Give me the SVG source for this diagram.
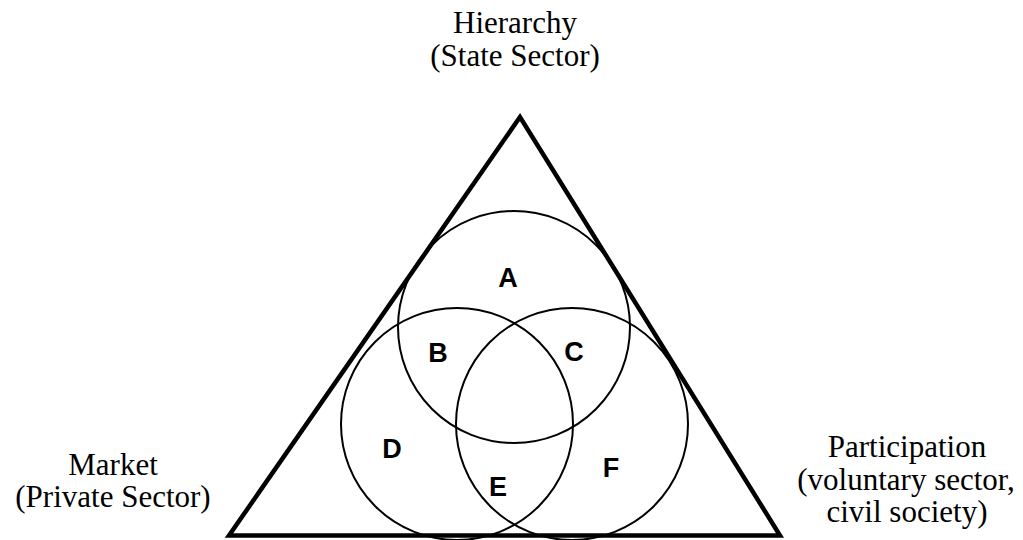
<svg xmlns="http://www.w3.org/2000/svg" width="1023" height="540" viewBox="0 0 1023 540">
<style>
.lbl{font-family:"Liberation Serif","Times New Roman",serif;font-size:31px;fill:#000;text-anchor:middle}
.reg{font-family:"Liberation Sans",Arial,sans-serif;font-size:27px;font-weight:bold;fill:#000;text-anchor:middle}
.c{fill:none;stroke:#000;stroke-width:2}
</style>
<rect width="1023" height="540" fill="#fff"/>
<g id="triangle">
<polygon points="520,117 229,535.5 780,535.5" fill="none" stroke="#000" stroke-width="4.5" stroke-linejoin="miter"/>
</g>
<g id="circle-hierarchy"><circle class="c" cx="514" cy="327" r="116"/></g>
<g id="circle-market"><circle class="c" cx="457" cy="424" r="116"/></g>
<g id="circle-participation"><circle class="c" cx="572" cy="424" r="116"/></g>
<g id="regions">
<text class="reg" x="508" y="287">A</text>
<text class="reg" x="438" y="362">B</text>
<text class="reg" x="574" y="361">C</text>
<text class="reg" x="392" y="458">D</text>
<text class="reg" x="498" y="496">E</text>
<text class="reg" x="611" y="477">F</text>
</g>
<g id="label-hierarchy">
<text class="lbl" x="515" y="33">Hierarchy</text>
<text class="lbl" x="515" y="66">(State Sector)</text>
</g>
<g id="label-market">
<text class="lbl" x="113" y="475">Market</text>
<text class="lbl" x="113" y="507">(Private Sector)</text>
</g>
<g id="label-participation">
<text class="lbl" x="907" y="457">Participation</text>
<text class="lbl" x="906" y="490">(voluntary sector,</text>
<text class="lbl" x="907" y="522">civil society)</text>
</g>
</svg>
